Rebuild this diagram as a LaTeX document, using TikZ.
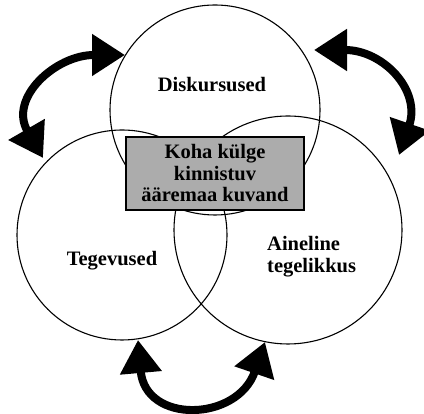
\documentclass[tikz,border=0pt]{standalone}
\usepackage{fontspec}
\setmainfont{Liberation Serif}
\usetikzlibrary{arrows.meta}
\begin{document}
\begin{tikzpicture}[x=1pt, y=1pt,
		ring/.style = {draw, circle, line width=1.1pt, inner sep=0pt},
		lbl/.style = {font=\fontsize{20.5}{22}\selectfont\bfseries, inner sep=0pt},
		core/.style = {draw, line width=1.2pt, fill=gray!65, minimum width=178pt, minimum height=73pt, align=center, font=\fontsize{20.5}{21.5}\selectfont\bfseries, inner sep=0pt},
		swap/.style = {line width=8pt, {Triangle[length=33pt,width=40pt]}-{Triangle[length=33pt,width=40pt]}}]
	\useasboundingbox (0,0) rectangle (424,414);
	% ringid
	\node[ring, minimum size=210pt] (disk) at (215,304) {};
	\node[ring, minimum size=210pt] (teg) at (122,179) {};
	\node[ring, minimum size=228pt] (ain) at (288,184) {};
	
	\node[lbl] (disklbl) at (212,329) {Diskursused};
	\node[lbl] (teglbl) at (112,153) {Tegevused};
	\node[lbl, align=left, anchor=west] (ainlbl) at (267,157) {Aineline\\tegelikkus};
	
	\node[core] (kuvand) at (215,240.5) {Koha külge\\kinnistuv\\ääremaa kuvand};
	
	% nooled
	\coordinate (lt) at (125,359);
	\coordinate (lb) at (43,256);
	\coordinate (rt) at (314,364);
	\coordinate (rb) at (399,259);
	\coordinate (bl) at (138,74);
	\coordinate (br) at (265,72);
	
	\draw[swap] (lt) to[out=180, in=120, looseness=1.35] (lb);
	\draw[swap] (rt) to[out=0, in=71, looseness=1.3] (rb);
	\draw[swap] (bl) to[out=-85, in=-109, looseness=1.7] (br);
\end{tikzpicture}
\end{document}
